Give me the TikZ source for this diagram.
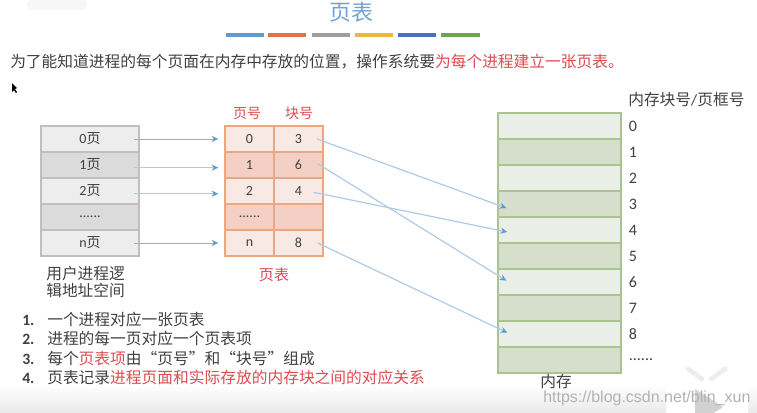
\documentclass[tikz,border=0pt]{standalone}
\usepackage{fontspec}
\setmainfont{Noto Sans CJK SC}
\newfontfamily\lat{Carlito}
\usetikzlibrary{shapes, arrows.meta, positioning}

\definecolor{inkgray}{HTML}{404040}
\definecolor{alertred}{HTML}{DE4A52}
\definecolor{titleblue}{HTML}{6FA3D6}
\definecolor{tipblue}{HTML}{5B9BD5}
\definecolor{linkblue}{HTML}{B0CAE5}
\definecolor{linkgray}{HTML}{A3AFBB}
\definecolor{tableline}{HTML}{EDA77F}
\definecolor{tablelt}{HTML}{F8E9E4}
\definecolor{tabledk}{HTML}{F4D0C4}
\definecolor{memline}{HTML}{A9C48C}
\definecolor{memlt}{HTML}{E9EEE6}
\definecolor{memdk}{HTML}{D5DFCC}
\definecolor{barorange}{HTML}{DE753E}
\definecolor{bargold}{HTML}{F0B642}
\definecolor{barblue}{HTML}{4472C4}
\definecolor{bargreen}{HTML}{70A54B}

\newcommand{\ye}{{\normalfont 页}}

\tikzset{
  txt/.style={text=inkgray, inner sep=0pt, font=\fontsize{11.8}{12.75}\selectfont},
  cell/.style={rectangle, draw, line width=1pt, inner sep=0pt, minimum height=19.5pt, text=inkgray,
               font=\fontsize{10.5}{12}\selectfont},
  pagelight/.style={cell, draw=black!25, fill=black!7, minimum width=73.5pt},
  pagedark/.style={cell, draw=black!25, fill=black!14, minimum width=73.5pt},
  tablelight/.style={cell, draw=tableline, fill=tablelt, minimum width=36.75pt},
  tabledark/.style={cell, draw=tableline, fill=tabledk, minimum width=36.75pt},
  memlight/.style={cell, draw=memline, fill=memlt, minimum width=92.25pt},
  memdark/.style={cell, draw=memline, fill=memdk, minimum width=92.25pt},
  memnum/.style={txt, right=5.2pt of #1, font=\lat\fontsize{12}{13}\selectfont},
  redtxt/.style={txt, text=alertred},
  link/.style={-{Stealth[length=5pt,width=4.5pt,color=tipblue]}, line width=.9pt, draw=linkblue},
  thinlink/.style={-{Stealth[length=5pt,width=4.5pt,color=tipblue]}, line width=.6pt, draw=linkgray},
  bar/.style={line width=3pt, draw=#1}
}

\begin{document}
\begin{tikzpicture}[x=0.75pt,y=-0.75pt,node distance=19.5pt]
\useasboundingbox (0,0) rectangle (757,412);

% Background band
\shade[top color=white, bottom color=black!8] (0,384) rectangle (757,412);
\fill[black!3, rounded corners=3pt] (27,0) rectangle (87,10);

% Title
\node (title) [txt, text=titleblue, font=\fontsize{16.5}{18}\selectfont] at (351,12) {页表};
\draw[bar=tipblue] (226,35) -- (264,35);
\draw[bar=barorange] (268,35) -- (306,35);
\draw[bar=black!38] (312,35) -- (350,35);
\draw[bar=bargold] (355,35) -- (393,35);
\draw[bar=barblue] (398,35) -- (436,35);
\draw[bar=bargreen] (441,35) -- (480,35);

\node (intro) [txt, anchor=west] at (10,62) {为了能知道进程的每个页面在内存中存放的位置，操作系统要\textcolor{alertred}{为每个进程建立一张页表。}};
\fill[black] (12,83) -- (12,92) -- (14,90) -- (16,93) -- (17,92) -- (15,89) -- (17,88) -- cycle;

% Logical space
\node (p0) [pagelight] at (90,139) {\lat 0\ye};
\node (p1) [pagedark, below of=p0] {\lat 1\ye};
\node (p2) [pagelight, below of=p1] {\lat 2\ye};
\node (pdots) [pagedark, below of=p2] {\lat ......};
\node (pn) [pagelight, below of=pdots] {\lat n\ye};
\node (plabel) [txt, anchor=north west, align=left] at (46,266) {用户进程逻\\辑地址空间};

% Page table
\node (t0) [tablelight] at (249.5,139) {\lat 0};
\node (b0) [tablelight, right of=t0, node distance=36.75pt] {\lat 3};
\node (t1) [tabledark, below of=t0] {\lat 1};
\node (b1) [tabledark, below of=b0] {\lat 6};
\node (t2) [tablelight, below of=t1] {\lat 2};
\node (b2) [tablelight, below of=b1] {\lat 4};
\node (tdots) [tabledark, below of=t2] {\lat ......};
\node (bdots) [tabledark, below of=b2] {};
\node (tn) [tablelight, below of=tdots] {\lat n};
\node (bn) [tablelight, below of=bdots] {\lat 8};
\node (thead) [redtxt, font=\fontsize{10.5}{12}\selectfont] at (247,113) {页号};
\node (bhead) [redtxt, font=\fontsize{10.5}{12}\selectfont] at (299,113) {块号};
\node (tlabel) [redtxt, font=\fontsize{11.3}{12}\selectfont] at (274,275) {页表};

% Memory
\node (m0) [memlight] at (559.5,126) {};
\node (m1) [memdark, below of=m0] {};
\node (m2) [memlight, below of=m1] {};
\node (m3) [memdark, below of=m2] {};
\node (m4) [memlight, below of=m3] {};
\node (m5) [memdark, below of=m4] {};
\node (m6) [memlight, below of=m5] {};
\node (m7) [memdark, below of=m6] {};
\node (m8) [memlight, below of=m7] {};
\node (m9) [memdark, below of=m8] {};
\node (n0) [memnum=m0] {0};
\node (n1) [memnum=m1] {1};
\node (n2) [memnum=m2] {2};
\node (n3) [memnum=m3] {3};
\node (n4) [memnum=m4] {4};
\node (n5) [memnum=m5] {5};
\node (n6) [memnum=m6] {6};
\node (n7) [memnum=m7] {7};
\node (n8) [memnum=m8] {8};
\node (n9) [memnum=m9] {......};
\node (mhead) [txt, anchor=west] at (628,100) {内存块号\lat /\normalfont 页框号};
\node (mlabel) [txt] at (556,382) {内存};

% Edges
\draw[thinlink] ([xshift=-4.5pt]p0.east) -- ([xshift=-4.5pt]t0.west);
\draw[link] ([xshift=-4.5pt,yshift=-2pt]p1.east) -- ([xshift=-4.5pt,yshift=-2pt]t1.west);
\draw[link] ([xshift=-4.5pt,yshift=-2pt]p2.east) -- ([xshift=-4.5pt,yshift=-2pt]t2.west);
\draw[thinlink] ([xshift=-4.5pt]pn.east) -- ([xshift=-4.5pt]tn.west);
\draw[link] ([xshift=-5pt]b0.east) -- ([xshift=6.8pt,yshift=-3pt]m3.west);
\draw[link] ([xshift=-4.5pt,yshift=1pt]b1.east) -- ([xshift=6.8pt,yshift=1pt]m6.west);
\draw[link] ([xshift=-7.5pt,yshift=-1pt]b2.east) -- ([xshift=7.5pt,yshift=-1.5pt]m4.west);
\draw[link] ([xshift=-4.5pt]bn.east) -- ([xshift=7.5pt,yshift=1pt]m8.west);

% Notes
\node (l1) [txt, anchor=west] at (22,320) {\lat\bfseries 1.};
\node (l2) [txt, anchor=west] at (22,339) {\lat\bfseries 2.};
\node (l3) [txt, anchor=west] at (22,359) {\lat\bfseries 3.};
\node (l4) [txt, anchor=west] at (22,378) {\lat\bfseries 4.};
\node (s1) [txt, anchor=west] at (47,320) {一个进程对应一张页表};
\node (s2) [txt, anchor=west] at (47,339) {进程的每一页对应一个页表项};
\node (s3) [txt, anchor=west] at (47,359) {每个\textcolor{alertred}{页表项}由“页号”和“块号”组成};
\node (s4) [txt, anchor=west] at (47,378) {页表记录\textcolor{alertred}{进程页面和实际存放的内存块之间的对应关系}};

% Player logo and watermark
\fill[white, rounded corners=8pt] (666,379) rectangle (748,425);
\draw[black!7, line width=3.5pt, line cap=round] (688,369) -- (702,379);
\draw[black!7, line width=3.5pt, line cap=round] (725,369) -- (711,379);
\fill[black!18] (695,389) -- (723,407) -- (695,425) -- cycle;
\node (mark) [txt, text=black!30, anchor=west, font=\fontsize{12}{13}\selectfont\fontspec{Liberation Sans}] at (543,398) {https://blog.csdn.net/blin\_xun};

\end{tikzpicture}
\end{document}
